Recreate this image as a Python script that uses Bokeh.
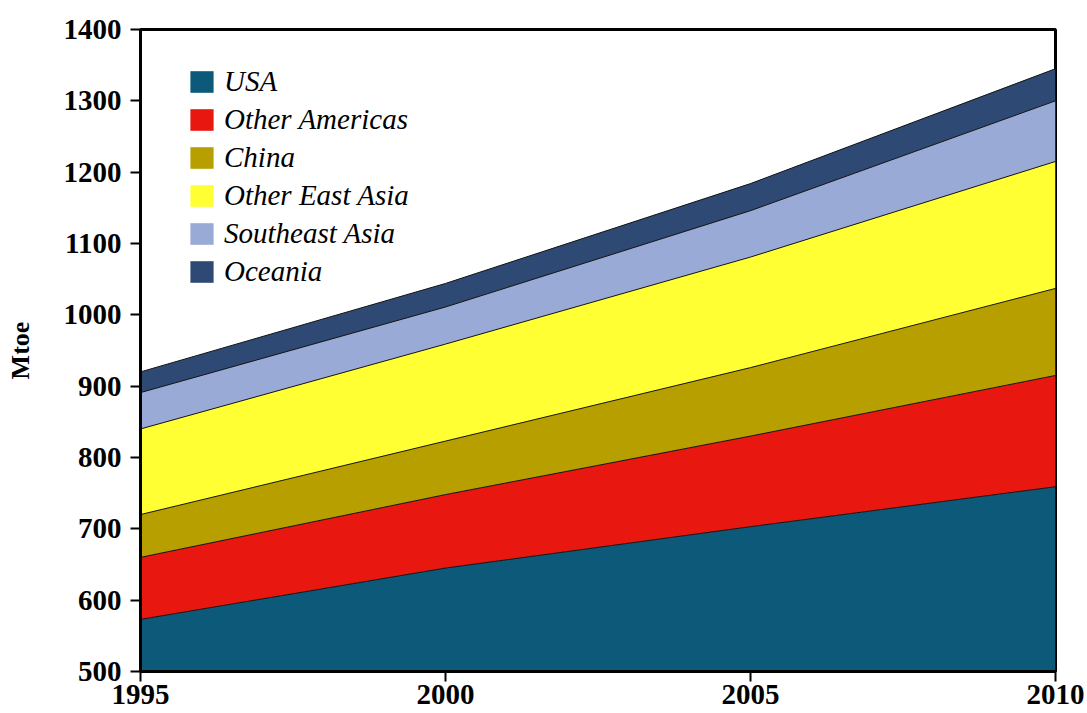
from bokeh.plotting import figure
from bokeh.models import ColumnDataSource, FixedTicker, Legend, LegendItem, Range1d
from bokeh.embed import file_html
from bokeh.resources import INLINE

years = [1995, 2000, 2005, 2010]
usa = [573, 645, 703, 759]
other_americas = [87, 103, 127, 156]
china = [60, 75, 96, 122]
other_east_asia = [120, 136, 155, 178]
southeast_asia = [51, 52, 65, 85]
oceania = [29, 33, 38, 45]

names = ["USA", "Other Americas", "China", "Other East Asia", "Southeast Asia", "Oceania"]
keys = ["usa", "oam", "chn", "oea", "sea", "oce"]
colors = ["#0c5979", "#e8170f", "#b89f00", "#ffff33", "#9aaad6", "#2e4a74"]
y_ticks = [500, 600, 700, 800, 900, 1000, 1100, 1200, 1300, 1400]

source = ColumnDataSource(dict(year=years, usa=usa, oam=other_americas, chn=china,
                               oea=other_east_asia, sea=southeast_asia, oce=oceania))

p = figure(width=1087, height=713, output_backend="svg", toolbar_location=None,
           x_range=Range1d(1995, 2010), y_range=Range1d(500, 1400),
           min_border_left=140, min_border_right=32, min_border_top=29, min_border_bottom=42)

areas = p.varea_stack(stackers=keys, x="year", color=colors, source=source)
p.vline_stack(stackers=keys, x="year", color="#111111", line_width=1, source=source)

items = [LegendItem(label=n, renderers=[r]) for n, r in zip(names, areas)]

legend = Legend(items=items, location=(47, 383), padding=0, margin=0,
                glyph_width=29, glyph_height=27, label_height=27, spacing=5,
                label_standoff=8, border_line_color=None, background_fill_alpha=0,
                label_text_font="Liberation Serif", label_text_font_style="italic",
                label_text_font_size="29px", label_text_color="black")
p.add_layout(legend)

p.xgrid.visible = False
p.ygrid.visible = False
p.outline_line_color = "black"
p.outline_line_width = 3
p.outline_line_alpha = 1

p.xaxis.ticker = FixedTicker(ticks=years)
p.yaxis.ticker = FixedTicker(ticks=y_ticks)
for ax in (p.xaxis, p.yaxis):
    ax.axis_line_width = 3
    ax.axis_line_color = "black"
    ax.major_tick_line_width = 2
    ax.major_tick_line_color = "black"
    ax.major_tick_out = 10
    ax.major_tick_in = 0
    ax.minor_tick_out = 0
    ax.minor_tick_in = 0
    ax.major_label_text_font = "Liberation Serif"
    ax.major_label_text_font_style = "bold"
    ax.major_label_text_font_size = "29px"
    ax.major_label_text_color = "black"

p.xaxis.major_label_standoff = 3
p.yaxis.major_label_standoff = 9
p.yaxis.axis_label = "Mtoe"
p.yaxis.axis_label_text_font = "Liberation Serif"
p.yaxis.axis_label_text_font_style = "bold"
p.yaxis.axis_label_text_font_size = "26px"
p.yaxis.axis_label_text_color = "black"
p.yaxis.axis_label_standoff = 26

open("out.html", "w").write(file_html(p, INLINE))
